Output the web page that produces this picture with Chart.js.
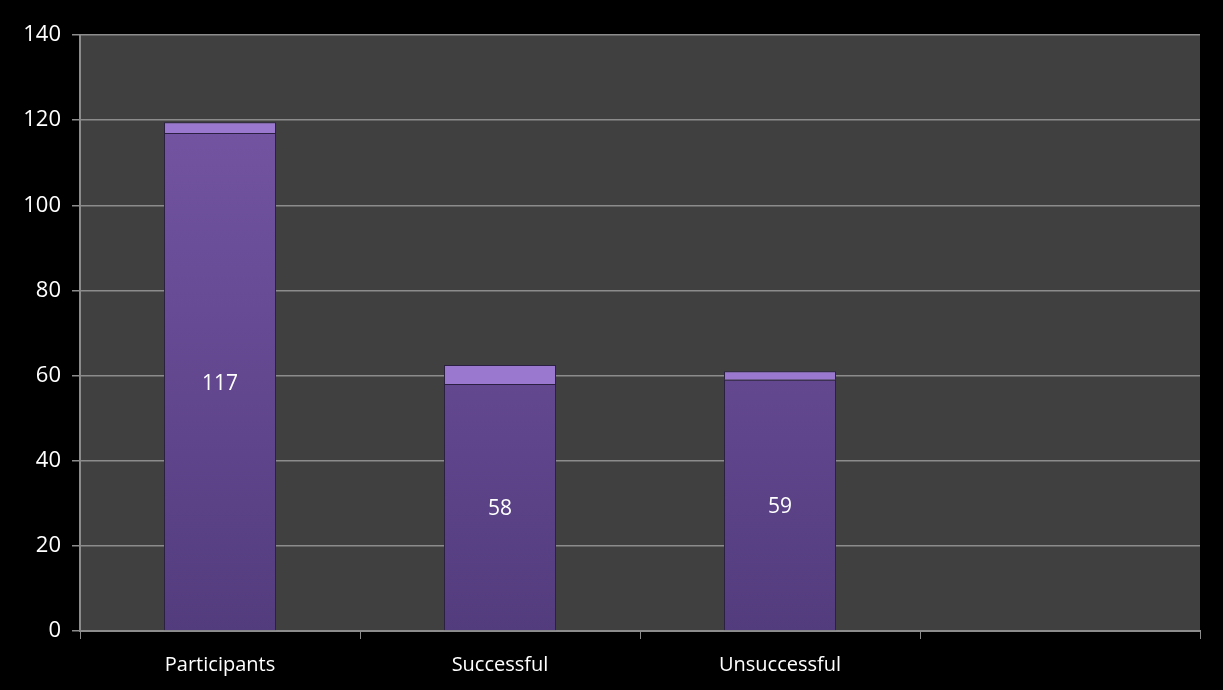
<!DOCTYPE html>
<html>
<head>
<meta charset="utf-8">
<script src="https://cdn.jsdelivr.net/npm/chart.js@4/dist/chart.umd.min.js"></script>
<style>
  html, body { margin: 0; padding: 0; background: #000; }
  #wrap { width: 1223px; height: 690px; }
</style>
</head>
<body>
<div id="wrap"><canvas id="grafico"></canvas></div>
<script>
// dados
var categorias = ["Participants", "Successful", "Unsuccessful", ""];
var valores = [117, 58, 59, null];
var topo = [2.5, 4.5, 2, null];   // faixa clara acima de cada barra
var yTicks = [0, 20, 40, 60, 80, 100, 120, 140];

var fonte = "'Open Sans', 'Lato', sans-serif";

// fundo preto e area do grafico cinza
var fundo = {
  id: 'fundo',
  beforeDraw: function(chart){
    var c = chart.ctx, a = chart.chartArea;
    c.save();
    c.fillStyle = '#000';
    c.fillRect(0, 0, chart.width, chart.height);
    c.fillStyle = '#404040';
    c.fillRect(a.left, a.top, a.right - a.left, a.bottom - a.top);
    c.restore();
  }
};

// rotulos dentro das barras
var rotulos = {
  id: 'rotulos',
  afterDatasetsDraw: function(chart){
    var c = chart.ctx;
    var meta = chart.getDatasetMeta(0);
    c.save();
    c.fillStyle = '#fff';
    c.font = '21px ' + fonte;
    c.textAlign = 'center';
    c.textBaseline = 'middle';
    meta.data.forEach(function(bar, i){
      if(valores[i] == null) return;
      c.fillText(String(valores[i]), bar.x, (bar.y + bar.base) / 2 + 2);
    });
    c.restore();
  }
};

function gradCorpo(ctx){
  var a = ctx.chart.chartArea;
  if(!a) return '#6b4f96';
  var g = ctx.chart.ctx.createLinearGradient(0, a.top, 0, a.bottom);
  g.addColorStop(0, '#7858a8');
  g.addColorStop(1, '#533c7e');
  return g;
}

function gradTopo(ctx){
  var el = ctx.element;
  if(!el || el.y == null || isNaN(el.y)) return '#9a78cf';
  var g = ctx.chart.ctx.createLinearGradient(0, el.y, 0, el.base);
  g.addColorStop(0, '#8a68c0');
  g.addColorStop(0.35, '#b593e6');
  g.addColorStop(1, '#6f52a0');
  return g;
}

new Chart(document.getElementById('grafico'), {
  type: 'bar',
  data: {
    labels: categorias,
    datasets: [{
      data: valores,
      backgroundColor: gradCorpo,
      borderColor: '#2c2042',
      borderWidth: 1,
      categoryPercentage: 1,
      barPercentage: 0.4
    },{
      data: topo,
      backgroundColor: gradTopo,
      borderColor: '#2c2042',
      borderWidth: 1,
      categoryPercentage: 1,
      barPercentage: 0.4
    }]
  },
  options: {
    responsive: true,
    maintainAspectRatio: false,
    animation: false,
    layout: { padding: { top: 35, right: 23, left: 0, bottom: 0 } },
    plugins: {
      legend: { display: false },
      tooltip: { enabled: false }
    },
    scales: {
      x: {
        stacked: true,
        grid: {
          offset: true,
          drawOnChartArea: false,
          drawTicks: true,
          tickLength: 8,
          color: '#8c8c8c'
        },
        border: { color: '#8c8c8c', width: 2 },
        ticks: {
          color: '#fff',
          font: { size: 20, family: fonte },
          padding: 14
        },
        afterFit: function(s){ s.height = 59; }
      },
      y: {
        stacked: true,
        min: 0,
        max: 140,
        afterBuildTicks: function(s){
          s.ticks = yTicks.map(function(v){ return { value: v }; });
        },
        grid: {
          color: '#8c8c8c',
          lineWidth: 1.5,
          tickLength: 8
        },
        border: { color: '#8c8c8c', width: 2 },
        ticks: {
          color: '#fff',
          font: { size: 22, family: fonte },
          padding: 11
        },
        afterFit: function(s){ s.width = 80; }
      }
    }
  },
  plugins: [fundo, rotulos]
});
</script>
</body>
</html>
